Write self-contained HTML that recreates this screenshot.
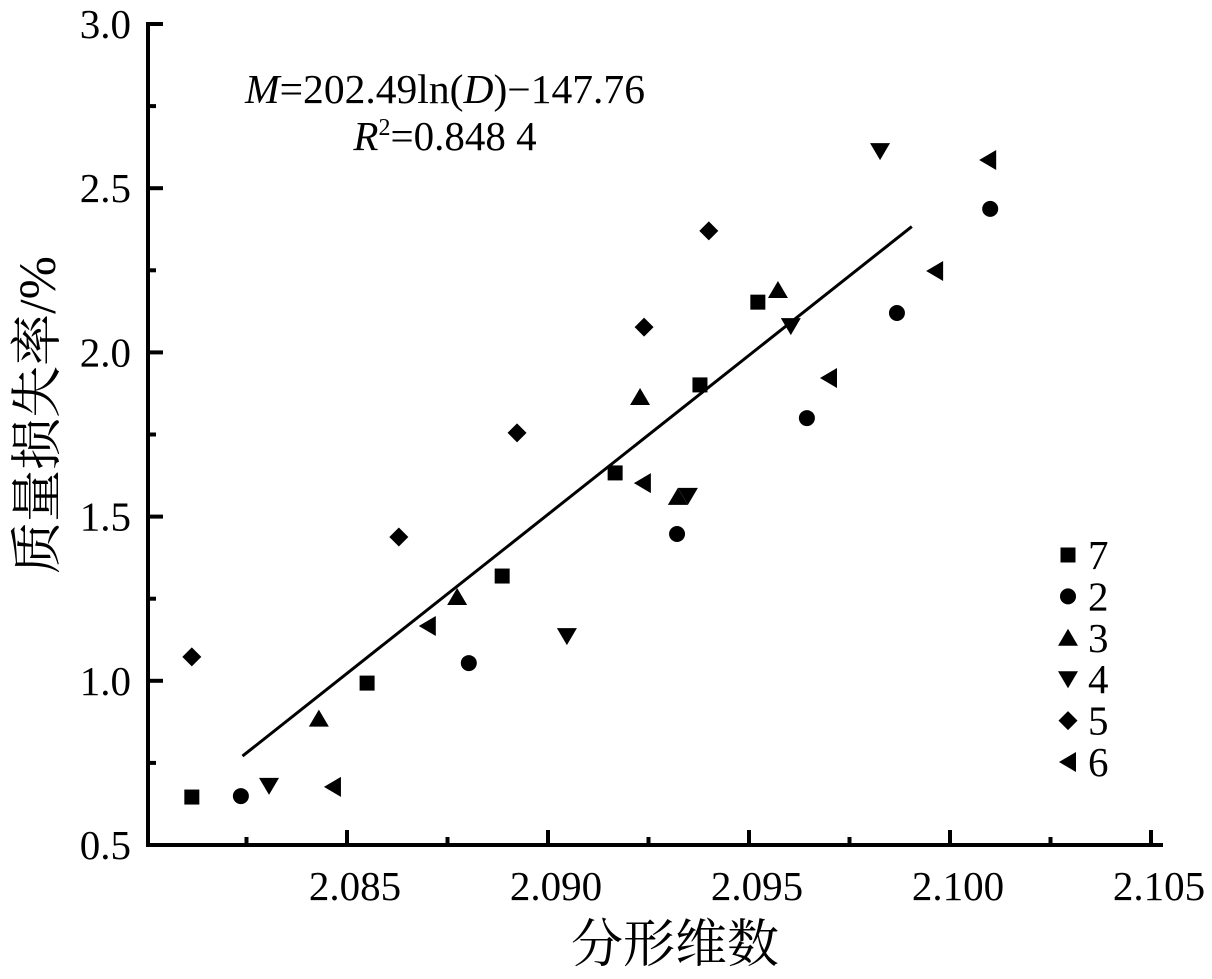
<!DOCTYPE html>
<html><head><meta charset="utf-8"><style>
html,body{margin:0;padding:0;background:#fff;}
svg{display:block;font-family:"Liberation Serif","Noto Serif CJK SC",serif;}
</style></head><body>
<svg id="chart" width="1212" height="979" viewBox="0 0 1212 979" xmlns="http://www.w3.org/2000/svg">
<g id="axes"></g><g id="marks"></g><g id="legend"></g>
<text x="445" y="103" font-size="41" text-anchor="middle" textLength="400" lengthAdjust="spacingAndGlyphs"><tspan font-style="italic">M</tspan>=202.49ln(<tspan font-style="italic">D</tspan>)−147.76</text>
<text x="445" y="150" font-size="41" text-anchor="middle"><tspan font-style="italic">R</tspan><tspan font-size="24" dy="-15">2</tspan><tspan dy="15">=0.848 4</tspan></text>
<text x="675" y="962" font-size="52" text-anchor="middle">分形维数</text>
<text transform="translate(55,415) rotate(-90)" font-size="52" text-anchor="middle">质量损失率/%</text>
</svg>
<script>
const xTicks=[2.080,2.085,2.090,2.095,2.100,2.105];
const xTickLabels=["","2.085","2.090","2.095","2.100","2.105"];
const yTicks=[0.5,1.0,1.5,2.0,2.5,3.0];
const yTickLabels=["0.5","1.0","1.5","2.0","2.5","3.0"];
const seriesNames=["7","2","3","4","5","6"];
const s7x=[2.08114,2.08550,2.08886,2.09167,2.09378,2.09522];
const s7y=[0.646,0.993,1.319,1.633,1.901,2.153];
const s2x=[2.08236,2.08803,2.09321,2.09644,2.09868,2.10100];
const s2y=[0.649,1.054,1.447,1.800,2.120,2.437];
const s3x=[2.08430,2.08774,2.09229,2.09323,2.09572];
const s3y=[0.885,1.255,1.864,1.560,2.190];
const s4x=[2.08306,2.09047,2.09348,2.09604,2.09826];
const s4y=[0.680,1.136,1.563,2.080,2.613];
const s5x=[2.08114,2.08629,2.08923,2.09239,2.09400];
const s5y=[1.073,1.438,1.755,2.077,2.370];
const s6x=[2.08465,2.08701,2.09236,2.09699,2.09963,2.10095];
const s6y=[0.677,1.167,1.602,1.922,2.248,2.586];
const fitRange=[2.0824,2.09905];
const fitA=202.49, fitB=-147.76;

const NS="http://www.w3.org/2000/svg";
const X=d=>146+(d-2.080)*40200;
const Y=v=>845-(v-0.5)*328.4;
function mk(tag,attrs,parent){const e=document.createElementNS(NS,tag);for(const k in attrs)e.setAttribute(k,attrs[k]);parent.appendChild(e);return e;}
const axes=document.getElementById('axes'),marks=document.getElementById('marks'),legend=document.getElementById('legend');
let a=mk('path',{d:'M148 22 V845 H1163',fill:'none',stroke:'#000','stroke-width':4},axes);


xTicks.forEach((t,i)=>{
 const x=X(t);
 if(i>0){let l=mk('line',{x1:x,y1:845,x2:x,y2:830,stroke:'#000','stroke-width':4},axes);
 
 }
 if(i<xTicks.length-1){const m=X(t+0.0025);let l=mk('line',{x1:m,y1:845,x2:m,y2:837,stroke:'#000','stroke-width':4},axes);
 
 }
 if(xTickLabels[i]){let tx=mk('text',{x:x+8,y:900,'font-size':41,'text-anchor':'middle'},axes);tx.textContent=xTickLabels[i];
 
 }
});
yTicks.forEach((t,i)=>{
 const y=Y(t);
 let l=mk('line',{x1:148,y1:y,x2:163,y2:y,stroke:'#000','stroke-width':4},axes);
 
 
 if(i<yTicks.length-1){const m=Y(t+0.25);let l2=mk('line',{x1:148,y1:m,x2:156,y2:m,stroke:'#000','stroke-width':4},axes);
 
 }
 let tx=mk('text',{x:131,y:y+14,'font-size':41,'text-anchor':'end'},axes);tx.textContent=yTickLabels[i];
 
 
});
function shape(type,cx,cy,parent){
 if(type==='square')return mk('rect',{x:cx-7.5,y:cy-7.5,width:15,height:15,fill:'#000'},parent);
 if(type==='circle')return mk('circle',{cx:cx,cy:cy,r:8,fill:'#000'},parent);
 let p;
 if(type==='up')p=[[cx,cy-9],[cx+10,cy+8],[cx-10,cy+8]];
 if(type==='down')p=[[cx-10,cy-8],[cx+10,cy-8],[cx,cy+9]];
 if(type==='diamond')p=[[cx,cy-9.5],[cx+9.5,cy],[cx,cy+9.5],[cx-9.5,cy]];
 if(type==='left')p=[[cx-9,cy],[cx+8,cy-10],[cx+8,cy+10]];
 return mk('polygon',{points:p.map(q=>q.join(',')).join(' '),fill:'#000'},parent);
}
const series=[[s7x,s7y,'square'],[s2x,s2y,'circle'],[s3x,s3y,'up'],[s4x,s4y,'down'],[s5x,s5y,'diamond'],[s6x,s6y,'left']];
series.forEach((s,si)=>{
 s[0].forEach((d,i)=>{
  const e=shape(s[2],X(d),Y(s[1][i]),marks);
  
  
 });
 const ly=555+si*41.4;
 const le=shape(s[2],1068,ly,legend);
 
 
 const lt=mk('text',{x:1088,y:ly+14,'font-size':41},legend);lt.textContent=seriesNames[si];
 
 
});
const f=d=>fitA*Math.log(d)+fitB;
const fl=mk('line',{x1:X(fitRange[0]),y1:Y(f(fitRange[0])),x2:X(fitRange[1]),y2:Y(f(fitRange[1])),stroke:'#000','stroke-width':3},marks);


</script>
</body></html>
